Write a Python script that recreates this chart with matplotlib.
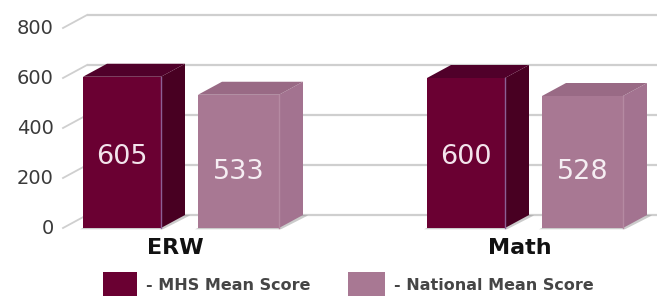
import matplotlib
matplotlib.use("Agg")
import matplotlib.pyplot as plt
from matplotlib.patches import Polygon, Rectangle

# ---- data ----
categories = ["ERW", "Math"]
series_names = ["- MHS Mean Score", "- National Mean Score"]
mhs_scores = [605, 600]
national_scores = [533, 528]
y_ticks = [0, 200, 400, 600, 800]

# ---- styles ----
front_cols = ["#6a0032", "#a87893"]
top_cols = ["#50002a", "#996a85"]
side_cols = ["#480022", "#a37390"]
label_cols = ["#f3e4ec", "#f6eef3"]
grid_col = "#cfcfcf"
FONT = "DejaVu Sans"

W, H = 657, 296
fig = plt.figure(figsize=(W / 100, H / 100), dpi=100)
ax = fig.add_axes([0, 0, 1, 1])
ax.axis("off")

# pixel <-> data mapping (front plane)
group_px = 344.0     # pixels per category
x0_px = 83.0         # left edge of the first bar
base_px = 68.0       # y=0 from bottom
ppu = 0.25           # pixels per unit
ax.set_xlim((0 - x0_px) / group_px, (W - x0_px) / group_px)
ax.set_ylim(-base_px / ppu, (H - base_px) / ppu)

bar_w = 78 / group_px
bar_gap = 37 / group_px
nat_w = 81 / group_px
dx = 24 / group_px
dy = 13 / ppu

front_axis_x = (63 - x0_px) / group_px
back_axis_x = front_axis_x + dx

# gridlines on back wall + diagonals
for t in y_ticks:
    ax.plot([back_axis_x, ax.get_xlim()[1]], [t + dy, t + dy], color=grid_col, lw=1.6,
            zorder=1, solid_capstyle="butt")
    ax.plot([front_axis_x, back_axis_x], [t, t + dy], color=grid_col, lw=1.3, zorder=1)
    ax.text(front_axis_x - 9 / group_px, t, str(t), ha="right", va="center",
            fontsize=14, color="#3a3a3a", family=FONT)

def draw_bar(x, v, k, w):
    xl, xr = x, x + w
    # soft shadow at the foot
    ax.add_patch(Polygon([(xl - 3 / group_px, -5), (xr + 2 / group_px, -5),
                          (xr + dx + 5 / group_px, dy - 2), (xr + dx, dy), (xl, 0)], closed=True,
                         facecolor="#6a6a6a", alpha=0.35, edgecolor="none", zorder=2))
    # side
    ax.add_patch(Polygon([(xr, 0), (xr + dx, dy), (xr + dx, v + dy), (xr, v)], closed=True,
                         facecolor=side_cols[k], edgecolor="none", zorder=3))
    # top
    ax.add_patch(Polygon([(xl, v), (xl + dx, v + dy), (xr + dx, v + dy), (xr, v)], closed=True,
                         facecolor=top_cols[k], edgecolor="none", zorder=3))
    # front
    ax.add_patch(Rectangle((xl, 0), w, v, facecolor=front_cols[k], edgecolor="none", zorder=4))
    ax.plot([xr, xr], [0, v], color="#8c5f95" if k == 0 else "#b58aa2", lw=1, zorder=5)
    ax.text(xl + w / 2, v * 0.47 - (0 if k == 0 else 25), str(v), ha="center", va="center",
            fontsize=19.5, color=label_cols[k], family=FONT, zorder=6)

for i, cat in enumerate(categories):
    draw_bar(i, mhs_scores[i], 0, bar_w)
    draw_bar(i + bar_w + bar_gap, national_scores[i], 1, nat_w)
    center = i + bar_w + bar_gap / 2 - 4 / group_px
    ax.text(center, -80, cat, ha="center", va="center", fontsize=16, fontweight="bold",
            color="#111111", family=FONT)

# legend
leg_items = [(103, 137, 146), (348, 385, 394)]
for k, (sx0, sx1, tx) in enumerate(leg_items):
    fig.patches.append(Rectangle((sx0 / W, 0), (sx1 - sx0) / W, 24 / H, transform=fig.transFigure,
                                 facecolor=front_cols[k], edgecolor="none"))
    fig.text(tx / W, 11 / H, series_names[k], ha="left", va="center", fontsize=11.5,
             fontweight="bold", color="#454545", family=FONT)

fig.savefig("out.png", dpi=100)
